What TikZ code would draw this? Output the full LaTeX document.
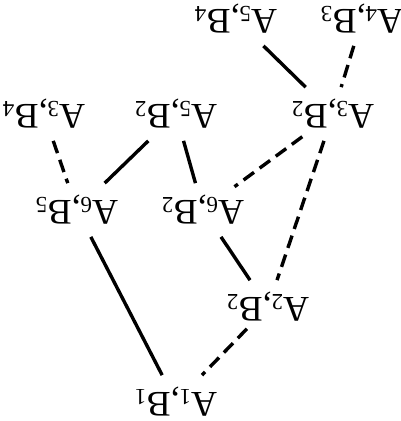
\documentclass[tikz,border=0pt]{standalone}
\usepackage{fontspec}
\setmainfont{Liberation Serif}
\usepackage{tikz}
\newcommand{\lowidx}[1]{\raisebox{-3pt}{\fontsize{23}{23}\selectfont#1}}

\begin{document}
\begin{tikzpicture}[x=1pt,y=-1pt,
    every node/.style={rotate=180,font=\fontsize{36}{42}\selectfont,inner xsep=4pt,inner ysep=12pt},
    link/.style={line width=3.4pt},
    weak/.style={line width=3.4pt,dash pattern=on 13pt off 7pt}]
\useasboundingbox (0,0) rectangle (401,421);
% pairs, top row first (picture is upside down)
\node (a5b4) at (236,19) {A\lowidx{5},B\lowidx{4}};
\node (a4b3) at (362,19) {A\lowidx{4},B\lowidx{3}};
\node (a3b4) at (44,114) {A\lowidx{3},B\lowidx{4}};
\node (a5b2) at (176,114) {A\lowidx{5},B\lowidx{2}};
\node (a3b2) at (333,114) {A\lowidx{3},B\lowidx{2}};
\node (a6b5) at (77,210) {A\lowidx{6},B\lowidx{5}};
\node (a6b2) at (203,210) {A\lowidx{6},B\lowidx{2}};
\node (a2b2) at (268,307) {A\lowidx{2},B\lowidx{2}};
\node (a1b1) at (176,402) {A\lowidx{1},B\lowidx{1}};
% solid links
\draw[link] (a5b4) -- (a3b2);
\draw[link] (a5b2) -- (a6b5);
\draw[link] (a5b2) -- (a6b2);
\draw[link] (a6b5) -- (a1b1);
\draw[link] (a6b2) -- (a2b2);
% dashed links
\draw[weak] (a4b3) -- (a3b2);
\draw[weak] (a3b4) -- (a6b5);
\draw[weak,shorten <=-7pt,shorten >=-6pt] (a3b2) -- (a6b2);
\draw[weak] (a3b2) -- (a2b2);
\draw[weak,shorten <=-7pt] (a2b2) -- (a1b1);
\end{tikzpicture}
\end{document}
